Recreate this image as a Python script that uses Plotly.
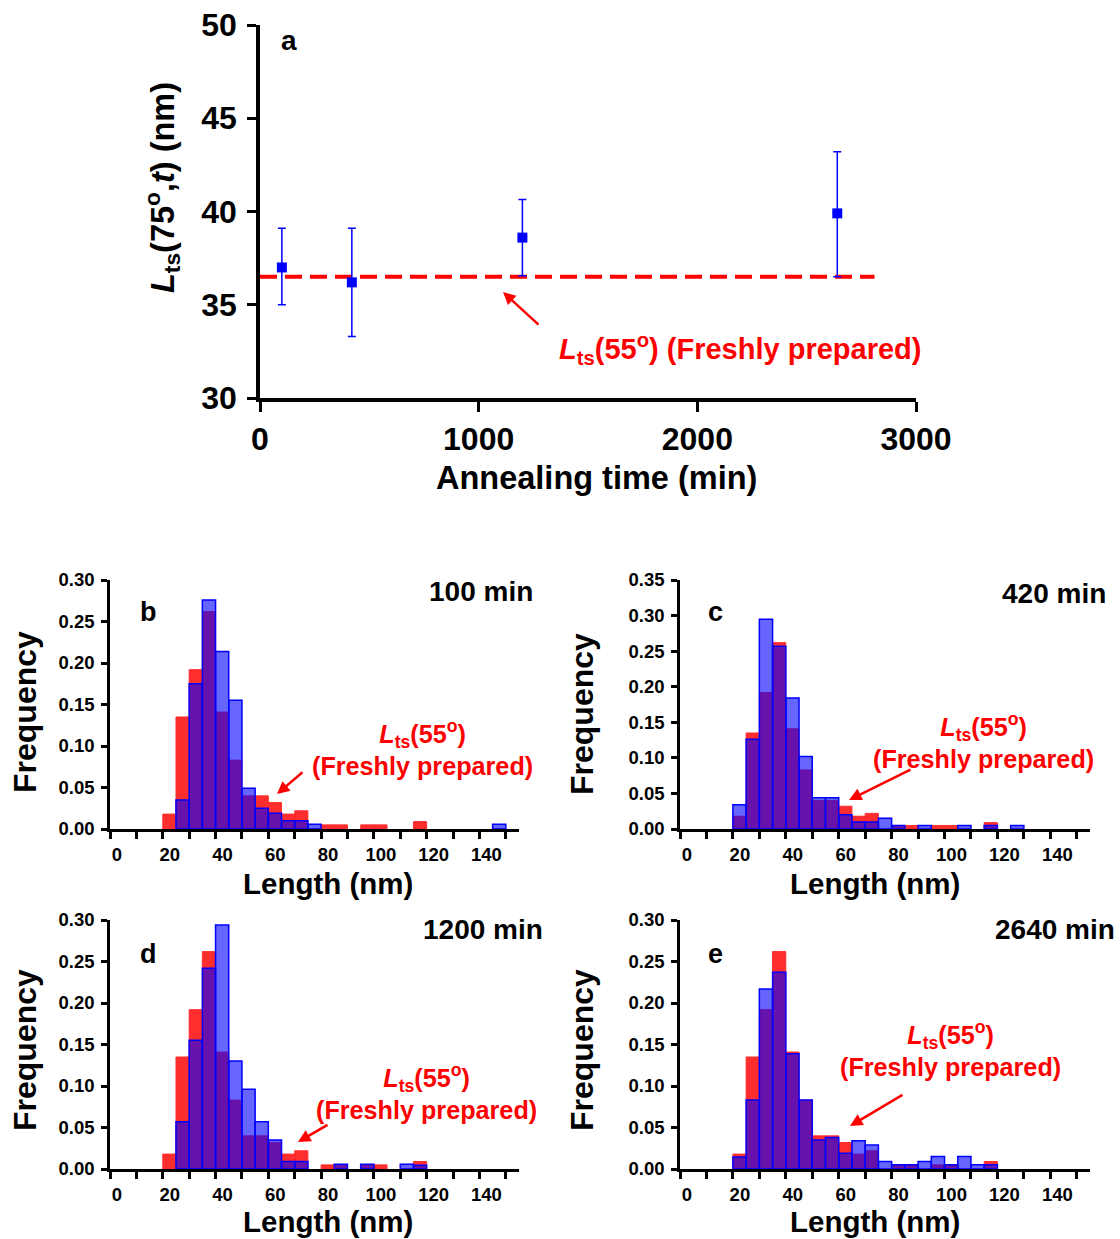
import plotly.graph_objects as go

W, H = 1120, 1239
FONT = "Liberation Sans, Arial, sans-serif"

# ---------------- data ----------------
# panel a
anneal_time = [100, 420, 1200, 2640]
lts_mean = [37.0, 36.2, 38.6, 39.9]
lts_err_plus = [2.1, 2.9, 2.05, 3.3]
lts_err_minus = [2.0, 2.9, 2.05, 3.4]
fresh_lts = 36.5
fresh_line_x = [0, 2810]

# histograms: bins of 5 nm starting at 20 nm
bin_starts = [20, 25, 30, 35, 40, 45, 50, 55, 60, 65, 70, 75, 80, 85, 90, 95,
              100, 105, 110, 115, 120, 125, 130, 135, 140, 145]
fresh_freq = [0.018, 0.135, 0.192, 0.262, 0.141, 0.083, 0.040, 0.040, 0.032, 0.018,
              0.022, 0, 0.005, 0.005, 0, 0.005, 0.005, 0, 0, 0.009,
              0, 0, 0, 0, 0, 0]
freq_100 = [0, 0.035, 0.175, 0.276, 0.214, 0.155, 0.049, 0.025, 0.019, 0.010,
            0.010, 0.0056, 0, 0, 0, 0, 0, 0, 0, 0,
            0, 0, 0, 0, 0, 0.0056]
freq_420 = [0.034, 0.126, 0.295, 0.257, 0.184, 0.102, 0.044, 0.044, 0.020, 0.010,
            0.010, 0.015, 0.005, 0, 0.005, 0, 0, 0.005, 0, 0.005,
            0, 0.005, 0, 0, 0, 0]
freq_1200 = [0, 0.057, 0.155, 0.242, 0.294, 0.130, 0.096, 0.057, 0.035, 0.009,
             0.009, 0, 0, 0.0056, 0, 0.0056, 0, 0, 0.0056, 0.0045,
             0, 0, 0, 0, 0, 0]
freq_2640 = [0.0145, 0.083, 0.217, 0.237, 0.139, 0.083, 0.035, 0.038, 0.019, 0.034,
             0.029, 0.009, 0.005, 0.005, 0.009, 0.015, 0.005, 0.015, 0.005, 0.005,
             0, 0, 0, 0, 0, 0]
bin_width = 5

hist_x_ticks = list(range(0, 151, 10))
hist_x_labels = [str(v) if v % 20 == 0 else "" for v in hist_x_ticks]


def fx(px):
    return px / W


def fy(py):
    return 1 - py / H


fig = go.Figure()

# ---------------- panel a ----------------
fig.add_trace(go.Scatter(
    x=fresh_line_x, y=[fresh_lts, fresh_lts], mode="lines",
    line=dict(color="#ff0000", width=4, dash="17px,8px"),
    xaxis="x", yaxis="y", showlegend=False, hoverinfo="skip"))
fig.add_trace(go.Scatter(
    x=anneal_time, y=lts_mean, mode="markers",
    marker=dict(symbol="square", size=10, color="#0000ff"),
    error_y=dict(type="data", array=lts_err_plus, arrayminus=lts_err_minus,
                 color="#0000ff", thickness=1.5, width=4, symmetric=False),
    xaxis="x", yaxis="y", showlegend=False))

axis_line = dict(showline=True, linecolor="black", showgrid=False, zeroline=False,
                 ticks="outside", tickcolor="black", automargin=False)

layout = dict(
    width=W, height=H, margin=dict(l=0, r=0, t=0, b=0, pad=0, autoexpand=False),
    paper_bgcolor="white", plot_bgcolor="white",
    barmode="overlay", showlegend=False,
    font=dict(family=FONT, color="black"),
)
layout["xaxis"] = dict(axis_line, domain=[fx(260), fx(916)], range=[0, 3000],
                       tickvals=[0, 1000, 2000, 3000], linewidth=3.5, tickwidth=3,
                       ticklen=10, anchor="y",
                       tickfont=dict(family=FONT, size=32, weight="bold"))
layout["yaxis"] = dict(axis_line, domain=[fy(398), fy(25)], range=[30, 50],
                       tickvals=[30, 35, 40, 45, 50], linewidth=3.5, tickwidth=3,
                       ticklen=9, anchor="x", ticklabelstandoff=4,
                       tickfont=dict(family=FONT, size=32, weight="bold"))

# ---------------- histograms ----------------
panels = [
    (freq_100, (110, 519), (829, 580), 0.30, "b", "100 min", (148, 612), (535, 591),
     (422, 748), (277, 794), (304, 771), (328, 883), (25, 712)),
    (freq_420, (680, 1090), (829, 580), 0.35, "c", "420 min", (715, 612), (1108, 593),
     (983, 741), (849, 800), (912, 769), (875, 883), (582, 714)),
    (freq_1200, (110, 519), (1169, 920), 0.30, "d", "1200 min", (148, 954), (545, 929),
     (426, 1092), (298, 1142), (329, 1124), (328, 1221), (25, 1050)),
    (freq_2640, (680, 1090), (1169, 920), 0.30, "e", "2640 min", (715, 954), (1117, 929),
     (950, 1049), (850, 1126), (904, 1094), (875, 1221), (582, 1050)),
]

annotations = []
centers = [s + bin_width / 2 for s in bin_starts]


def clean(vals):
    return [v if v > 0 else None for v in vals]


for i, (freq, xd, yd, ymax, letter, ttext, lpos, tpos, txtpos, ahead, atail, xtpos, ytpos) in enumerate(panels):
    n = i + 2
    xa, ya = f"x{n}", f"y{n}"
    fig.add_trace(go.Bar(x=centers, y=clean(fresh_freq), width=bin_width,
                         marker=dict(color="rgba(255,0,0,0.82)",
                                     line=dict(color="rgba(255,40,40,0.9)", width=1)),
                         xaxis=xa, yaxis=ya, showlegend=False))
    fig.add_trace(go.Bar(x=centers, y=clean(freq), width=bin_width,
                         marker=dict(color="rgba(0,0,255,0.6)",
                                     line=dict(color="#0000ff", width=1.5)),
                         xaxis=xa, yaxis=ya, showlegend=False))
    layout[f"xaxis{n}"] = dict(axis_line, domain=[fx(xd[0]), fx(xd[1])], range=[0, 155],
                               tickvals=hist_x_ticks, ticktext=hist_x_labels,
                               ticklabelshift=7, linewidth=2.5, tickwidth=2.5, ticklen=7,
                               anchor=ya, tickfont=dict(family=FONT, size=18.5, weight="bold"))
    step = 0.05
    yt = [round(k * step, 2) for k in range(int(round(ymax / step)) + 1)]
    layout[f"yaxis{n}"] = dict(axis_line, domain=[fy(yd[0]), fy(yd[1])], range=[0, ymax],
                               tickvals=yt, tickformat=".2f", linewidth=2.5, tickwidth=2.5,
                               ticklen=6, anchor=xa, ticklabelstandoff=3,
                               tickfont=dict(family=FONT, size=18.5, weight="bold"))
    annotations.append(dict(x=fx(lpos[0]), y=fy(lpos[1]), xref="paper", yref="paper",
                            text=letter, showarrow=False, xanchor="center", yanchor="middle",
                            font=dict(family=FONT, size=27, weight="bold", color="black")))
    annotations.append(dict(x=fx(tpos[0]), y=fy(tpos[1]), xref="paper", yref="paper",
                            text=ttext, showarrow=False, xanchor="right", yanchor="middle",
                            font=dict(family=FONT, size=28, weight="bold", color="black")))
    annotations.append(dict(x=fx(txtpos[0]), y=fy(txtpos[1]), xref="paper", yref="paper",
                            text="<i>L</i><sub>ts</sub>(55<sup>o</sup>)<br>(Freshly prepared)",
                            showarrow=False, xanchor="center", yanchor="middle",
                            font=dict(family=FONT, size=25.2, weight="bold", color="#ff0000")))
    annotations.append(dict(x=fx(ahead[0]), y=fy(ahead[1]), xref="paper", yref="paper",
                            ax=atail[0] - ahead[0], ay=atail[1] - ahead[1],
                            text="", showarrow=True, arrowhead=2, arrowsize=1,
                            arrowwidth=2.5, arrowcolor="#ff0000"))
    annotations.append(dict(x=fx(xtpos[0]), y=fy(xtpos[1]), xref="paper", yref="paper",
                            text="Length (nm)", showarrow=False, xanchor="center", yanchor="middle",
                            font=dict(family=FONT, size=29.5, weight="bold", color="black")))
    annotations.append(dict(x=fx(ytpos[0]), y=fy(ytpos[1]), xref="paper", yref="paper",
                            text="Frequency", showarrow=False, textangle=-90,
                            xanchor="center", yanchor="middle",
                            font=dict(family=FONT, size=32, weight="bold", color="black")))

# panel a annotations
annotations += [
    dict(x=fx(289), y=fy(40), xref="paper", yref="paper", text="a", showarrow=False,
         xanchor="center", yanchor="middle",
         font=dict(family=FONT, size=28, weight="bold", color="black")),
    dict(x=fx(596), y=fy(478), xref="paper", yref="paper", text="Annealing time (min)",
         showarrow=False, xanchor="center", yanchor="middle",
         font=dict(family=FONT, size=32.5, weight="bold", color="black")),
    dict(x=fx(162), y=fy(188), xref="paper", yref="paper",
         text="<i>L</i><sub>ts</sub>(75<sup>o</sup>,<i>t</i>) (nm)", showarrow=False,
         textangle=-90, xanchor="center", yanchor="middle",
         font=dict(family=FONT, size=32.5, weight="bold", color="black")),
    dict(x=fx(740), y=fy(349), xref="paper", yref="paper",
         text="<i>L</i><sub>ts</sub>(55<sup>o</sup>) (Freshly prepared)", showarrow=False,
         xanchor="center", yanchor="middle",
         font=dict(family=FONT, size=29, weight="bold", color="#ff0000")),
    dict(x=fx(503), y=fy(292), xref="paper", yref="paper", ax=540 - 503, ay=326 - 292,
         text="", showarrow=True, arrowhead=2, arrowsize=1, arrowwidth=2.5,
         arrowcolor="#ff0000"),
]
layout["annotations"] = annotations

fig.update_layout(layout)
fig.write_html("out.html")
